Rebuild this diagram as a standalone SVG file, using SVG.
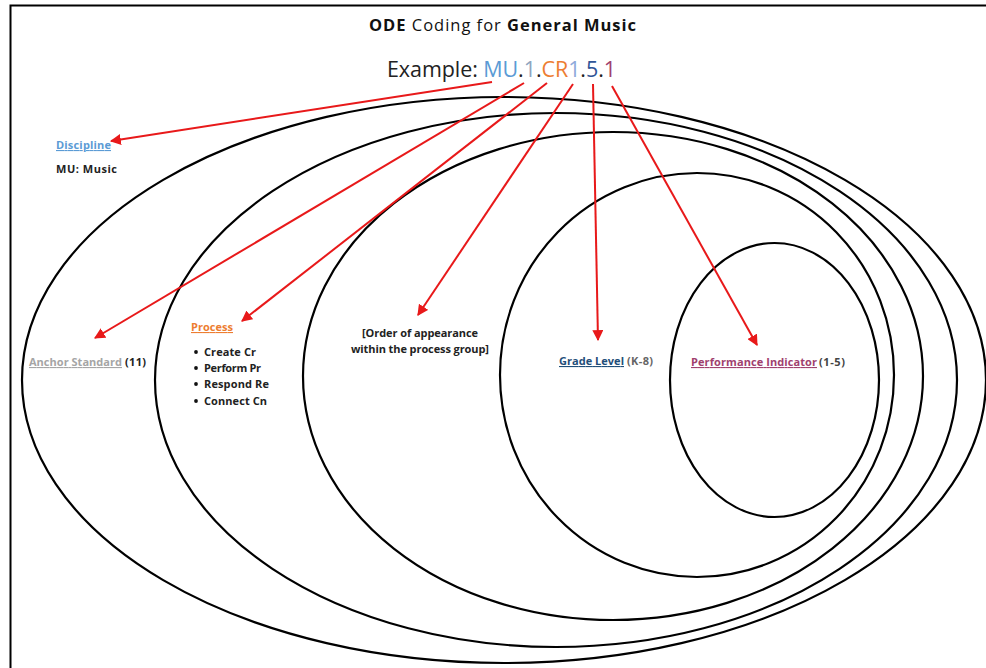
<svg xmlns="http://www.w3.org/2000/svg" width="986" height="668" viewBox="0 0 986 668">
<defs>
<style>
.t{font-family:"Open Sans","Liberation Sans",sans-serif;}
.b{font-weight:bold;}
.e{fill:none;stroke:#000;stroke-width:2.2;}
.a{stroke:#e8191a;stroke-width:2;fill:none;marker-end:url(#ah);}
.s{font-size:11px;font-weight:bold;fill:#222;}
.u{text-decoration:underline;}
</style>
<marker id="ah" viewBox="0 0 10 10" refX="9" refY="5" markerWidth="5.5" markerHeight="5.5" orient="auto" markerUnits="strokeWidth">
<path d="M0,0 L10,5 L0,10 z" fill="#e8191a"/>
</marker>
</defs>
<rect x="0" y="0" width="986" height="668" fill="#fff"/>
<path d="M10.5,668 V5.5 H986" fill="none" stroke="#000" stroke-width="2"/>
<g id="title">
<text class="t" x="369" y="31" font-size="16.5" fill="#111" textLength="267"><tspan class="b">ODE</tspan> Coding for <tspan class="b">General Music</tspan></text>
</g>
<g id="example">
<text class="t" x="387" y="77" font-size="21.5" fill="#222" textLength="229">Example: <tspan fill="#5b9bd5">MU</tspan>.<tspan fill="#8fa5bf">1</tspan>.<tspan fill="#ed7d31">CR</tspan><tspan fill="#8eaadb">1</tspan>.<tspan fill="#2f5597">5</tspan>.<tspan fill="#a0416e">1</tspan></text>
</g>
<g id="ellipses">
<ellipse id="anchor-ellipse" class="e" cx="504" cy="380" rx="482" ry="283"/>
<ellipse id="process-ellipse" class="e" cx="556" cy="380" rx="401" ry="267"/>
<ellipse id="order-ellipse" class="e" cx="613" cy="376" rx="310" ry="244"/>
<ellipse id="grade-ellipse" class="e" cx="697" cy="375" rx="197" ry="202"/>
<ellipse id="perf-ellipse" class="e" cx="774.5" cy="380" rx="104.5" ry="137"/>
</g>
<g id="discipline">
<text class="t b u" x="56" y="149" font-size="11" fill="#5b9bd5" textLength="55">Discipline</text>
<text class="t s" x="56" y="173" textLength="61">MU: Music</text>
</g>
<g id="anchor">
<text class="t b u" x="29" y="366" font-size="11" fill="#a5a5a5" textLength="93">Anchor Standard</text>
<text class="t s" x="125" y="366" textLength="21">(11)</text>
</g>
<g id="process">
<text class="t b u" x="191" y="331" font-size="11" fill="#ed7d31" textLength="42">Process</text>
<g class="t s">
<circle cx="196" cy="352" r="1.9" fill="#111"/><text x="204" y="356" textLength="52">Create Cr</text>
<circle cx="196" cy="368" r="1.9" fill="#111"/><text x="204" y="372" textLength="57">Perform Pr</text>
<circle cx="196" cy="384" r="1.9" fill="#111"/><text x="204" y="388" textLength="65">Respond Re</text>
<circle cx="196" cy="401" r="1.9" fill="#111"/><text x="204" y="405" textLength="63">Connect Cn</text>
</g>
</g>
<g id="order">
<text class="t s" x="362" y="337" fill="#26263e" textLength="116">[Order of appearance</text>
<text class="t s" x="351" y="353" fill="#26263e" textLength="138">within the process group]</text>
</g>
<g id="grade">
<text class="t b u" x="559" y="365" font-size="11" fill="#1f4e79" textLength="65">Grade Level</text>
<text class="t b" x="627" y="365" font-size="11" fill="#666" textLength="26">(K-8)</text>
</g>
<g id="perf">
<text class="t b u" x="691" y="366" font-size="11" fill="#a0416e" textLength="126">Performance Indicator</text>
<text class="t b" x="819" y="366" font-size="11" fill="#444" textLength="26">(1-5)</text>
</g>
<g id="connectors">
<line class="a" x1="492" y1="82" x2="111" y2="141"/>
<line class="a" x1="524" y1="83" x2="95" y2="338"/>
<line class="a" x1="547" y1="83" x2="242" y2="321"/>
<line class="a" x1="573" y1="84" x2="418" y2="315"/>
<line class="a" x1="593" y1="84" x2="598" y2="340"/>
<line class="a" x1="612" y1="86" x2="757" y2="345"/>
</g>
</svg>
